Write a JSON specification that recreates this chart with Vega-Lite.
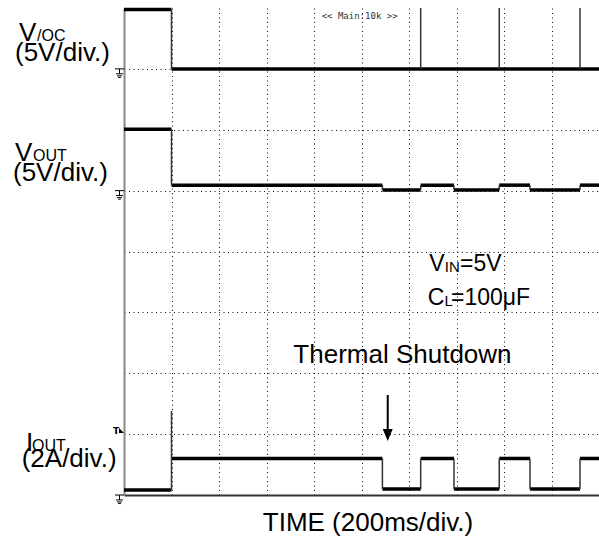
{
  "$schema": "https://vega.github.io/schema/vega-lite/v6.json",
  "width": 475,
  "height": 487,
  "autosize": {"type": "none"},
  "padding": {"left": 124, "top": 8, "right": 0, "bottom": 42},
  "background": "white",
  "config": {"view": {"stroke": null}, "font": "Liberation Sans"},
  "layer": [
    {
      "data": {"values": [
        {"trace": "VOC", "x": 0, "x2": 1.0, "y": 7.975},
        {"trace": "VOC", "x": 1.0, "x2": 10, "y": 7.0},
        {"trace": "VOUT", "x": 0, "x2": 1.0, "y": 6.01},
        {"trace": "VOUT", "x": 1.0, "x2": 5.44, "y": 5.09},
        {"trace": "VOUT", "x": 5.44, "x2": 6.246, "y": 5.01},
        {"trace": "VOUT", "x": 6.246, "x2": 6.947, "y": 5.09},
        {"trace": "VOUT", "x": 6.947, "x2": 7.9, "y": 5.01},
        {"trace": "VOUT", "x": 7.9, "x2": 8.547, "y": 5.09},
        {"trace": "VOUT", "x": 8.547, "x2": 9.6, "y": 5.01},
        {"trace": "VOUT", "x": 9.6, "x2": 10, "y": 5.09},
        {"trace": "IOUT", "x": 0, "x2": 1.0, "y": 0.082},
        {"trace": "IOUT", "x": 1.0, "x2": 5.44, "y": 0.6},
        {"trace": "IOUT", "x": 5.44, "x2": 6.246, "y": 0.098},
        {"trace": "IOUT", "x": 6.246, "x2": 6.947, "y": 0.6},
        {"trace": "IOUT", "x": 6.947, "x2": 7.9, "y": 0.098},
        {"trace": "IOUT", "x": 7.9, "x2": 8.547, "y": 0.6},
        {"trace": "IOUT", "x": 8.547, "x2": 9.6, "y": 0.098},
        {"trace": "IOUT", "x": 9.6, "x2": 10, "y": 0.6}
      ]},
      "mark": {"type": "rule", "color": "#000", "strokeWidth": 3.5},
      "encoding": {
        "x": {
          "field": "x", "type": "quantitative",
          "scale": {"domain": [0, 10], "nice": false, "zero": false},
          "axis": {
            "values": [1, 2, 3, 4, 5, 6, 7, 8, 9],
            "grid": true, "gridDash": [1, 3.5], "gridColor": "#111", "gridWidth": 1,
            "labels": false, "ticks": false,
            "domainColor": "#333", "domainWidth": 2,
            "title": "TIME (200ms/div.)",
            "titleFont": "Liberation Sans", "titleFontSize": 26, "titleFontWeight": "normal",
            "titleColor": "#000", "titleBaseline": "alphabetic", "titlePadding": 35, "titleX": 243.5
          }
        },
        "x2": {"field": "x2"},
        "y": {
          "field": "y", "type": "quantitative",
          "scale": {"domain": [0, 8], "nice": false, "zero": false},
          "axis": {
            "values": [1, 2, 3, 4, 5, 6, 7],
            "grid": true, "gridDash": [1, 3.5], "gridColor": "#111", "gridWidth": 1,
            "labels": false, "ticks": false,
            "domainColor": "#888", "domainWidth": 2,
            "title": null
          }
        }
      }
    },
    {
      "mark": {"type": "rule", "color": "#888", "strokeWidth": 1},
      "encoding": {"y": {"datum": 8}}
    },
    {
      "data": {"values": [
        {"x": 1.0, "y": 7.0, "y2": 7.975},
        {"x": 6.246, "y": 7.0, "y2": 8.0},
        {"x": 7.9, "y": 7.0, "y2": 8.0},
        {"x": 9.6, "y": 7.0, "y2": 8.0},
        {"x": 1.0, "y": 5.09, "y2": 6.01},
        {"x": 5.44, "y": 5.01, "y2": 5.09},
        {"x": 6.246, "y": 5.01, "y2": 5.09},
        {"x": 6.947, "y": 5.01, "y2": 5.09},
        {"x": 7.9, "y": 5.01, "y2": 5.09},
        {"x": 8.547, "y": 5.01, "y2": 5.09},
        {"x": 9.6, "y": 5.01, "y2": 5.09},
        {"x": 1.0, "y": 0.082, "y2": 1.38},
        {"x": 5.44, "y": 0.098, "y2": 0.6},
        {"x": 6.246, "y": 0.098, "y2": 0.6},
        {"x": 6.947, "y": 0.098, "y2": 0.6},
        {"x": 7.9, "y": 0.098, "y2": 0.6},
        {"x": 8.547, "y": 0.098, "y2": 0.6},
        {"x": 9.6, "y": 0.098, "y2": 0.6}
      ]},
      "mark": {"type": "rule", "color": "#333", "strokeWidth": 1.5},
      "encoding": {
        "x": {"field": "x", "type": "quantitative"},
        "y": {"field": "y", "type": "quantitative"},
        "y2": {"field": "y2"}
      }
    },
    {
      "data": {"values": [{"x": 5.552, "y": 1.643, "y2": 1.068}]},
      "mark": {"type": "rule", "color": "#000", "strokeWidth": 2},
      "encoding": {
        "x": {"field": "x", "type": "quantitative"},
        "y": {"field": "y", "type": "quantitative"},
        "y2": {"field": "y2"}
      }
    },
    {
      "data": {"values": [{"x": 5.552, "y": 0.887}]},
      "mark": {"type": "point", "shape": "M-1,-2.4L1,-2.4L0,0Z", "size": 100, "filled": true, "color": "#000", "opacity": 1},
      "encoding": {
        "x": {"field": "x", "type": "quantitative"},
        "y": {"field": "y", "type": "quantitative"}
      }
    },
    {
      "data": {"values": [{"x": -0.095, "y": 7.0}, {"x": -0.095, "y": 5.0}, {"x": -0.095, "y": 0}]},
      "mark": {"type": "point", "shape": "M-1,0H1M0,0V1.1M-0.78,1.1H0.78M-0.55,1.55H0.55M-0.3,1.9H0.3", "size": 81, "filled": false, "color": "#000", "strokeWidth": 1, "opacity": 1},
      "encoding": {
        "x": {"field": "x", "type": "quantitative"},
        "y": {"field": "y", "type": "quantitative"}
      }
    },
    {
      "data": {"values": [{"x": -0.053, "y": 1.059}]},
      "mark": {"type": "point", "shape": "M-1,-1L1,1L-1,1Z", "size": 25, "filled": true, "color": "#000", "opacity": 1},
      "encoding": {
        "x": {"field": "x", "type": "quantitative"},
        "y": {"field": "y", "type": "quantitative"}
      }
    },
    {
      "data": {"values": [{"x": -0.232, "y": 1.0, "t": "T"}]},
      "mark": {"type": "text", "align": "left", "baseline": "alphabetic", "fontSize": 9, "fontWeight": "bold", "font": "DejaVu Sans", "color": "#000"},
      "encoding": {
        "x": {"field": "x", "type": "quantitative"},
        "y": {"field": "y", "type": "quantitative"},
        "text": {"field": "t"}
      }
    },
    {
      "data": {"values": [{"x": 4.162, "y": 7.82, "t": "<< Main:10k >>"}]},
      "mark": {"type": "text", "align": "left", "baseline": "alphabetic", "fontSize": 9, "font": "DejaVu Sans Mono", "color": "#333"},
      "encoding": {
        "x": {"field": "x", "type": "quantitative"},
        "y": {"field": "y", "type": "quantitative"},
        "text": {"field": "t"}
      }
    },
    {
      "data": {"values": [
        {"x": -2.21, "y": 7.46, "t": "V"},
        {"x": -2.295, "y": 7.135, "t": "(5V/div.)"},
        {"x": -2.295, "y": 5.49, "t": "V"},
        {"x": -2.337, "y": 5.165, "t": "(5V/div.)"},
        {"x": -2.063, "y": 0.73, "t": "I"},
        {"x": -2.154, "y": 0.455, "t": "(2A/div.)"},
        {"x": 3.565, "y": 2.168, "t": "Thermal Shutdown"}
      ]},
      "mark": {"type": "text", "align": "left", "baseline": "alphabetic", "fontSize": 26, "font": "Liberation Sans", "color": "#000"},
      "encoding": {
        "x": {"field": "x", "type": "quantitative"},
        "y": {"field": "y", "type": "quantitative"},
        "text": {"field": "t"}
      }
    },
    {
      "data": {"values": [
        {"x": -1.83, "y": 7.45, "t": "/OC"},
        {"x": -1.916, "y": 5.48, "t": "OUT"},
        {"x": -1.937, "y": 0.72, "t": "OUT"}
      ]},
      "mark": {"type": "text", "align": "left", "baseline": "alphabetic", "fontSize": 16, "font": "Liberation Sans", "color": "#000"},
      "encoding": {
        "x": {"field": "x", "type": "quantitative"},
        "y": {"field": "y", "type": "quantitative"},
        "text": {"field": "t"}
      }
    },
    {
      "data": {"values": [
        {"x": 6.427, "y": 3.685, "t": "V"},
        {"x": 7.074, "y": 3.685, "t": "=5V"},
        {"x": 6.394, "y": 3.121, "t": "C"},
        {"x": 6.884, "y": 3.121, "t": "=100μF"}
      ]},
      "mark": {"type": "text", "align": "left", "baseline": "alphabetic", "fontSize": 23, "font": "Liberation Sans", "color": "#000"},
      "encoding": {
        "x": {"field": "x", "type": "quantitative"},
        "y": {"field": "y", "type": "quantitative"},
        "text": {"field": "t"}
      }
    },
    {
      "data": {"values": [
        {"x": 6.754, "y": 3.663, "t": "IN"},
        {"x": 6.747, "y": 3.097, "t": "L"}
      ]},
      "mark": {"type": "text", "align": "left", "baseline": "alphabetic", "fontSize": 15, "font": "Liberation Sans", "color": "#000"},
      "encoding": {
        "x": {"field": "x", "type": "quantitative"},
        "y": {"field": "y", "type": "quantitative"},
        "text": {"field": "t"}
      }
    }
  ]
}
